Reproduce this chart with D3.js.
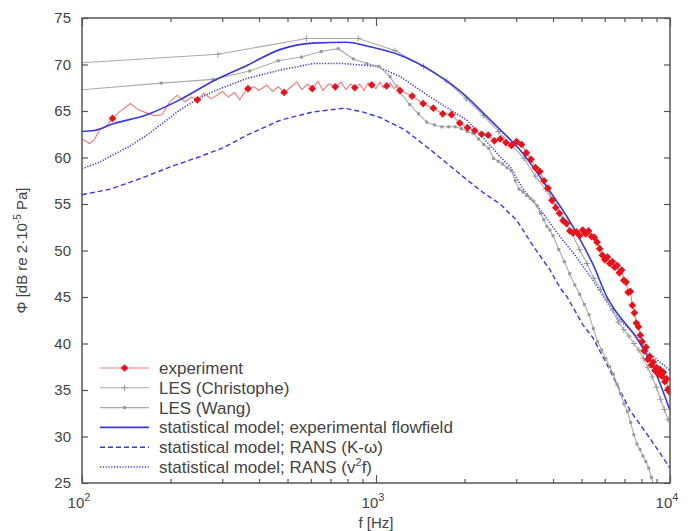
<!DOCTYPE html>
<html><head><meta charset="utf-8">
<script src="https://cdn.jsdelivr.net/npm/d3@7"></script>
<style>
body{margin:0;background:#fff}
text{font-family:"Liberation Sans",Arial,Helvetica,sans-serif;fill:#444}
</style>
</head><body>
<svg id="c" width="689" height="531"></svg>
<script>
// ---------------- data ----------------
const xMajorTicks = [100, 1000, 10000];
const xMajorExp = ["2", "3", "4"];
const xMinorTicks = [200,300,400,500,600,700,800,900,2000,3000,4000,5000,6000,7000,8000,9000];
const yTicks = [25,30,35,40,45,50,55,60,65,70,75];
const legendLabels = ["experiment","LES (Christophe)","LES (Wang)",
  "statistical model; experimental flowfield","statistical model; RANS (K-\u03c9)","statistical model; RANS (v"];

// experiment: measured points (markers)
const expPoints = [
[127,64.2],[247,66.2],[367,67.4],[487,67.0],[607,67.4],[727,67.6],[847,67.5],[967,67.8],
[1087,67.7],[1207,67.2],[1327,66.6],[1447,65.8],[1567,65.3],[1687,64.7],[1807,64.6],[1927,63.7],
[2047,63.2],[2167,62.9],[2287,62.5],[2407,62.4],[2527,61.8],[2647,62.0],[2767,61.6],[2887,61.3],
[3007,61.7],[3127,61.4],[3247,60.5],[3367,59.8],[3487,58.9],[3607,58.5],[3727,57.5],[3847,56.7],
[3967,55.4],[4087,54.6],[4207,54.0],[4327,53.2],[4447,52.9],[4567,52.1],[4687,51.9],[4807,52.0],
[4927,51.6],[5047,52.2],[5167,51.8],[5287,52.1],[5407,51.5],[5527,51.4],[5647,50.9],[5767,50.2],
[5887,49.5],[6007,49.0],[6127,49.3],[6247,48.6],[6367,48.8],[6487,48.2],[6607,48.4],[6727,47.6],
[6847,47.9],[6967,46.8],[7087,46.6],[7207,45.5],[7327,45.6],[7447,44.1],[7567,43.3],[7687,42.2],
[7807,41.8],[7927,40.9],[8047,40.2],[8167,39.2],[8287,39.6],[8407,38.3],[8527,38.6],[8647,37.7],
[8767,38.0],[8887,37.1],[9007,37.4],[9127,36.7],[9247,37.2],[9367,36.5],[9487,36.9],[9607,35.9],
[9727,36.2],[9847,35.1],[9967,34.8]];
// experiment: raw spectrum between markers (line only)
const expRaw = [
[100,62.0],[106,61.5],[110,61.9],[115,63.0],[121,63.4],[134,64.9],[146,65.8],[156,65.1],[166,64.8],
[176,64.5],[187,64.6],[198,65.9],[211,66.7],[224,66.0],[236,66.5],[260,66.9],[275,66.3],[288,66.7],
[300,67.1],[315,66.5],[330,67.0],[344,66.2],[355,66.9],[385,67.6],[400,67.2],[425,67.8],[445,67.1],
[465,67.6],[510,67.5],[538,68.1],[560,67.3],[585,67.9],[635,68.2],[660,67.2],[690,67.9],[760,68.1],
[790,67.3],[820,67.9],[880,67.9],[910,67.2],[940,68.0],[1000,67.4],[1030,68.1],[1060,67.5],
[1120,68.0],[1150,67.4],[1180,67.8]];

const lesChristophe = [
[90,70.1],[290,71.1],[580,72.8],[870,72.8],[1160,71.5],[1450,69.8],[1740,68.2],[2030,66.3],[2320,64.5],
[2610,62.8],[2900,61.3],[3190,59.9],[3480,58.0],[3770,56.6],[4060,55.0],[4350,53.4],[4640,51.8],
[4930,50.1],[5220,48.6],[5510,47.0],[5800,45.8],[6090,44.7],[6380,43.6],[6670,42.3],[6960,41.5],
[7250,40.8],[7540,40.0],[7830,39.3],[8120,38.4],[8410,37.4],[8700,36.4],[8990,35.3],[9280,34.0],
[9570,32.9],[9860,31.8]];

const lesWang = [
[93,67.2],[186,68.0],[279,68.4],[372,69.3],[465,70.4],[558,70.8],[651,71.4],[744,71.7],[837,70.6],
[930,70.1],[1023,69.8],[1116,68.7],[1209,67.0],[1302,65.7],[1395,64.7],[1488,63.8],[1581,63.5],
[1674,63.3],[1767,63.3],[1860,63.3],[1953,63.1],[2046,62.8],[2139,62.6],[2232,62.0],[2325,61.4],
[2418,61.0],[2511,59.9],[2604,59.6],[2697,59.3],[2790,58.9],[2883,58.6],[2976,57.5],[3069,56.6],
[3162,56.3],[3255,55.9],[3348,55.6],[3441,55.3],[3534,54.8],[3627,54.0],[3720,53.3],[3813,52.6],
[3906,52.2],[3999,51.6],[4185,50.1],[4371,48.8],[4557,47.5],[4743,46.3],[4929,45.3],[5115,44.2],
[5301,43.1],[5487,41.6],[5673,40.2],[5859,39.3],[6045,38.4],[6231,37.5],[6417,36.7],[6603,35.6],
[6789,34.6],[6975,33.5],[7161,32.7],[7347,31.5],[7533,30.2],[7719,29.2],[7905,28.6],[8091,27.9],
[8277,27.3],[8463,26.6],[8649,25.6],[8835,24.6]];

const statExp = [
[100,62.8],[110,62.9],[127,63.6],[166,64.6],[215,66.2],[279,68.2],[364,69.9],[471,71.6],[611,72.3],
[796,72.4],[955,71.9],[1208,71.0],[1564,69.2],[2040,66.5],[2313,64.8],[2641,63.0],[3090,60.8],
[3400,59.1],[3819,56.8],[4467,53.6],[4943,51.2],[5472,48.5],[6105,45.0],[6400,43.9],[7727,40.5],
[8755,37.5],[10000,32.8]];

const statKw = [
[100,56.0],[125,56.6],[160,57.8],[200,59.0],[252,60.1],[300,61.0],[364,62.4],[471,64.0],[611,64.9],
[780,65.3],[900,64.9],[1033,64.3],[1250,63.0],[1564,60.6],[1800,59.0],[2040,57.6],[2300,56.3],
[2641,55.0],[3018,53.2],[3420,50.5],[3908,47.9],[4227,46.0],[4467,45.0],[5058,42.0],[5472,40.6],
[6253,37.1],[7310,32.8],[8551,29.8],[10000,26.6]];

const statV2f = [
[100,58.8],[115,59.5],[124,60.1],[145,61.2],[166,62.4],[190,63.8],[215,65.1],[245,66.2],[279,67.1],
[364,68.5],[471,69.4],[611,70.1],[773,70.1],[1008,69.8],[1208,68.7],[1564,66.3],[2040,64.0],
[2350,61.9],[2641,60.1],[2856,59.0],[3162,56.6],[3614,54.4],[4130,51.9],[4831,49.2],[5472,46.8],
[5780,45.6],[6607,42.8],[7480,41.2],[8551,38.9],[10000,37.1]];

// ---------------- drawing ----------------
const W = 689, H = 531;
const L = 82, R = 670, T = 18, B = 483;
const svg = d3.select("#c");
const x = d3.scaleLog().domain([100, 10000]).range([L, R]);
const y = d3.scaleLinear().domain([25, 75]).range([B, T]);

const frameColor = "#555";
const red = "#e8121a", redLine = "#f07a7a", gray = "#aaaaaa", grayMk = "#999", blue = "#3838e0";

svg.append("defs").append("clipPath").attr("id","clip")
  .append("rect").attr("x", L).attr("y", T).attr("width", R-L).attr("height", B-T);

// axes (ticks inward)
function styleAxis(g){ g.select(".domain").remove(); g.selectAll(".tick line").attr("stroke", frameColor).attr("stroke-width",1.2); }
svg.append("g").attr("transform",`translate(0,${B})`)
  .call(d3.axisBottom(x).tickValues(xMinorTicks).tickSize(-4).tickFormat(""))
  .call(styleAxis);
svg.append("g").attr("transform",`translate(0,${B})`)
  .call(d3.axisBottom(x).tickValues(xMajorTicks).tickSize(-8).tickFormat(""))
  .call(styleAxis);
svg.append("g").attr("transform",`translate(0,${T})`)
  .call(d3.axisTop(x).tickValues(xMinorTicks).tickSize(-4).tickFormat(""))
  .call(styleAxis);
svg.append("g").attr("transform",`translate(0,${T})`)
  .call(d3.axisTop(x).tickValues(xMajorTicks).tickSize(-8).tickFormat(""))
  .call(styleAxis);
const yl = svg.append("g").attr("transform",`translate(${L},0)`)
  .call(d3.axisLeft(y).tickValues(yTicks).tickSize(-6).tickPadding(11).tickFormat(d3.format("d")))
  .call(styleAxis);
yl.selectAll(".tick text").attr("font-size",15).attr("fill","#444").attr("font-family",null);
svg.append("g").attr("transform",`translate(${R},0)`)
  .call(d3.axisRight(y).tickValues(yTicks).tickSize(-6).tickFormat(""))
  .call(styleAxis);

// x tick labels 10^n
xMajorTicks.forEach((t,i)=>{
  const tx = svg.append("text").attr("x", x(t)-3).attr("y", B+25).attr("text-anchor","middle").attr("font-size",15);
  tx.append("tspan").text("10");
  tx.append("tspan").attr("dy",-7).attr("font-size",11).text(xMajorExp[i]);
});

// axis titles
svg.append("text").attr("x", (L+R)/2).attr("y", H-3).attr("text-anchor","middle").attr("font-size",15).text("f [Hz]");
const yt = svg.append("text").attr("transform",`translate(27,${(T+B)/2}) rotate(-90)`).attr("text-anchor","middle").attr("font-size",15);
yt.append("tspan").text("\u03a6 [dB re 2\u00b710");
yt.append("tspan").attr("dy",-6).attr("font-size",10).text("-5");
yt.append("tspan").attr("dy",6).text(" Pa]");

// data
const line = d3.line().x(d=>x(d[0])).y(d=>y(d[1]));
const plot = svg.append("g").attr("clip-path","url(#clip)");

const expAll = expPoints.concat(expRaw).sort((a,b)=>a[0]-b[0]);

plot.append("path").datum(statKw).attr("d",line).attr("fill","none").attr("stroke",blue).attr("stroke-width",1.4).attr("stroke-dasharray","5,3");
plot.append("path").datum(statV2f).attr("d",line).attr("fill","none").attr("stroke",blue).attr("stroke-width",1.6).attr("stroke-dasharray","1.2,1.6");
plot.append("path").datum(lesWang).attr("d",line).attr("fill","none").attr("stroke",gray).attr("stroke-width",1.1);
plot.append("path").datum(lesChristophe).attr("d",line).attr("fill","none").attr("stroke",gray).attr("stroke-width",1.1);
plot.append("path").datum(expAll).attr("d",line).attr("fill","none").attr("stroke",redLine).attr("stroke-width",1.1);

plot.selectAll(".mkC").data(lesChristophe).join("path")
  .attr("transform",d=>`translate(${x(d[0])},${y(d[1])})`)
  .attr("d","M-3,0H3M0,-3V3").attr("stroke",grayMk).attr("stroke-width",1).attr("fill","none");
plot.selectAll(".mkW").data(lesWang).join("rect")
  .attr("x",d=>x(d[0])-1.5).attr("y",d=>y(d[1])-1.5).attr("width",3).attr("height",3).attr("fill",grayMk);

plot.append("path").datum(statExp).attr("d",line.curve(d3.curveMonotoneX)).attr("fill","none").attr("stroke",blue).attr("stroke-width",1.6);
line.curve(d3.curveLinear);

const diamond = d3.symbol().type(d3.symbolSquare).size(30);
plot.selectAll(".mkE").data(expPoints).join("path")
  .attr("transform",d=>`translate(${x(d[0])},${y(d[1])}) rotate(45)`)
  .attr("d",diamond).attr("fill",red);

// frame
svg.append("rect").attr("x",L).attr("y",T).attr("width",R-L).attr("height",B-T)
  .attr("fill","none").attr("stroke",frameColor).attr("stroke-width",1.5);

// legend
const lg = svg.append("g");
const ly0 = 368, ldy = 19.8, lx0 = 100, lx1 = 149, ltx = 159;
const styles = [
  {c:redLine,w:1.1,da:null},{c:gray,w:1.1,da:null},{c:gray,w:1.1,da:null},
  {c:blue,w:1.6,da:null},{c:blue,w:1.4,da:"5,3"},{c:blue,w:1.6,da:"1.2,1.6"}];
legendLabels.forEach((lab,i)=>{
  const yy = ly0 + i*ldy;
  lg.append("line").attr("x1",lx0).attr("x2",lx1).attr("y1",yy).attr("y2",yy)
    .attr("stroke",styles[i].c).attr("stroke-width",styles[i].w).attr("stroke-dasharray",styles[i].da);
  const t = lg.append("text").attr("x",ltx).attr("y",yy+6).attr("font-size",17).text(lab);
  if(i===5){ t.append("tspan").attr("dy",-7).attr("font-size",11).text("2");
             t.append("tspan").attr("dy",7).text("f)"); }
});
const lxm = (lx0+lx1)/2;
lg.append("path").attr("transform",`translate(${lxm},${ly0}) rotate(45)`).attr("d",diamond).attr("fill",red);
lg.append("path").attr("transform",`translate(${lxm},${ly0+ldy})`).attr("d","M-3,0H3M0,-3V3").attr("stroke",grayMk).attr("fill","none");
lg.append("rect").attr("x",lxm-1.5).attr("y",ly0+2*ldy-1.5).attr("width",3).attr("height",3).attr("fill",grayMk);
</script>
</body></html>
